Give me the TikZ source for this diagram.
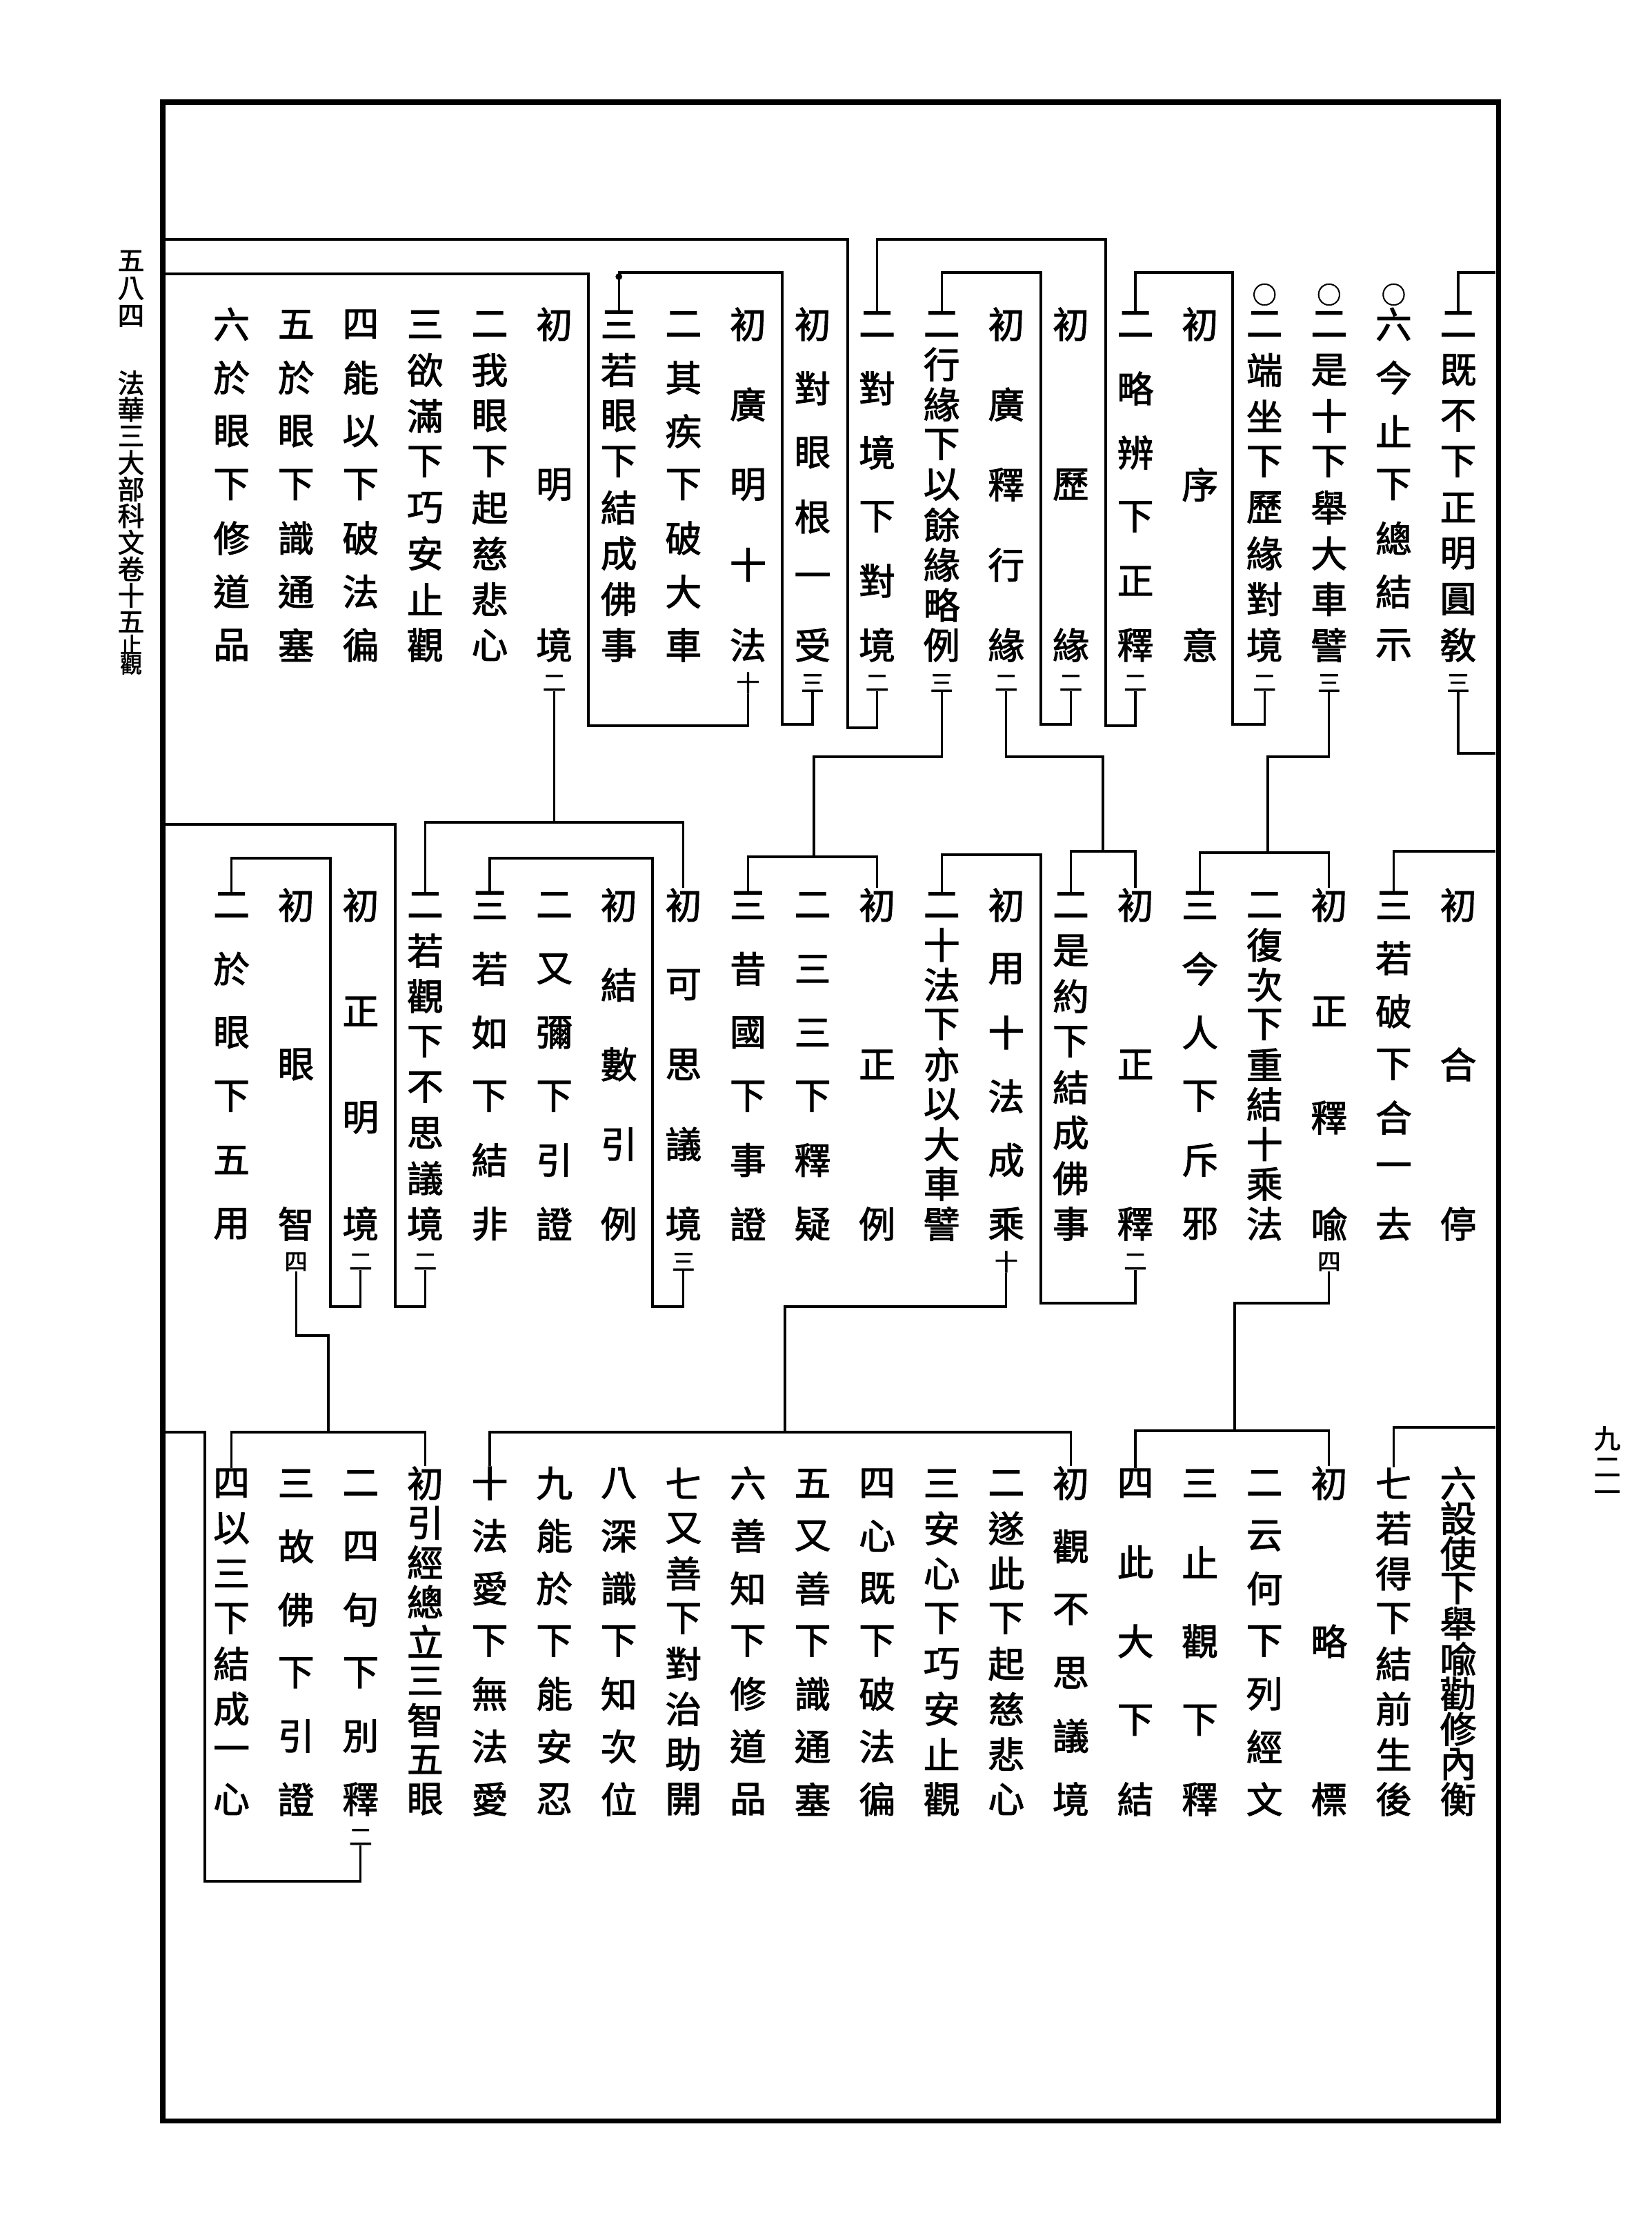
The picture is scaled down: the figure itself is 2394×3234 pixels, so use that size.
\documentclass[tikz,border=0pt]{standalone}
\usepackage{fontspec}
\newfontfamily\cjk{Noto Sans CJK TC}[FakeBold=2]

% one column of the outline: name, column number (right to left), characters, count mark
\newcommand\kcol[4]{%
  \pgfmathsetmacro\kx{2114-93.6*(#2-1)}%
  \foreach \c [count=\i] in {#3} {\xdef\kn{\i}}%
  \foreach \c [count=\i] in {#3} {%
    \pgfmathsetmacro\ky{\ka+(\i-1)*(\kb-\ka)/(\kn-1)}%
    \node[kchar] (#1-\i) at (\kx,\ky) {\c};
  }%
  \coordinate (#1-t) at (#1-1.north);%
  \if\relax\detokenize{#4}\relax
    \coordinate (#1-s) at (#1-\kn.south);%
  \else
    \pgfmathsetmacro\ky{\kb+55}%
    \node[knum] (#1-s) at (\kx,\ky) {#4};%
  \fi
}

\begin{document}
\begin{tikzpicture}[
  x=0.01cm, y=-0.01cm,
  kchar/.style={font={\cjk\fontsize{15pt}{15pt}\selectfont}, inner sep=0pt},
  knum/.style={font={\cjk\fontsize{9.5pt}{10pt}\selectfont}, inner sep=0pt},
  kmark/.style={font={\cjk\fontsize{10pt}{10pt}\selectfont}, inner sep=0pt},
  kside/.style={font={\cjk\fontsize{11pt}{11pt}\selectfont}, inner sep=0pt},
  ksmall/.style={font={\cjk\fontsize{9pt}{9pt}\selectfont}, inner sep=0pt},
  kline/.style={line width=0.9pt},
  kframe/.style={line width=2pt}
]
  \useasboundingbox (0,0) rectangle (2394,3234);
  \draw[kframe] (236,148) rectangle (2172,3074);

  % margins
  \foreach \c [count=\i] in {五,八,四}
    \node[kside] (pg-\i) at (190,{378+40*(\i-1)}) {\c};
  \foreach \c [count=\i] in {法,華,三,大,部,科,文,卷,十,五}
    \node[kside] (ti-\i) at (190,{555+38.5*(\i-1)}) {\c};
  \node[ksmall] (ti-z) at (190,934) {止};
  \node[ksmall] (ti-g) at (190,963) {觀};
  \foreach \c [count=\i] in {九,二,一}
    \node[kside] (no-\i) at (2330,{2085+42*(\i-1)}) {\c};

  % top row
  \def\ka{470}\def\kb{935}
  \kcol{t01}{1}{二,既,不,下,正,明,圓,敎}{三}
  \kcol{t02}{2}{六,今,止,下,總,結,示}{}
  \kcol{t03}{3}{二,是,十,下,舉,大,車,譬}{三}
  \kcol{t04}{4}{二,端,坐,下,歷,緣,對,境}{二}
  \kcol{t05}{5}{初,序,意}{}
  \kcol{t06}{6}{二,略,辨,下,正,釋}{二}
  \kcol{t07}{7}{初,歷,緣}{二}
  \kcol{t08}{8}{初,廣,釋,行,緣}{二}
  \kcol{t09}{9}{二,行,緣,下,以,餘,緣,略,例}{三}
  \kcol{t10}{10}{二,對,境,下,對,境}{二}
  \kcol{t11}{11}{初,對,眼,根,一,受}{三}
  \kcol{t12}{12}{初,廣,明,十,法}{十}
  \kcol{t13}{13}{二,其,疾,下,破,大,車}{}
  \kcol{t14}{14}{三,若,眼,下,結,成,佛,事}{}
  \kcol{t15}{15}{初,明,境}{二}
  \kcol{t16}{16}{二,我,眼,下,起,慈,悲,心}{}
  \kcol{t17}{17}{三,欲,滿,下,巧,安,止,觀}{}
  \kcol{t18}{18}{四,能,以,下,破,法,徧}{}
  \kcol{t19}{19}{五,於,眼,下,識,通,塞}{}
  \kcol{t20}{20}{六,於,眼,下,修,道,品}{}
  \node[kmark] (t02-o) at (t02-1 |- 0,427) {○};
  \node[kmark] (t03-o) at (t03-1 |- 0,427) {○};
  \node[kmark] (t04-o) at (t04-1 |- 0,427) {○};

  % middle row
  \def\ka{1312}\def\kb{1774}
  \kcol{m01}{1}{初,合,停}{}
  \kcol{m02}{2}{三,若,破,下,合,一,去}{}
  \kcol{m03}{3}{初,正,釋,喩}{四}
  \kcol{m04}{4}{二,復,次,下,重,結,十,乘,法}{}
  \kcol{m05}{5}{三,今,人,下,斥,邪}{}
  \kcol{m06}{6}{初,正,釋}{二}
  \kcol{m07}{7}{二,是,約,下,結,成,佛,事}{}
  \kcol{m08}{8}{初,用,十,法,成,乘}{十}
  \kcol{m09}{9}{二,十,法,下,亦,以,大,車,譬}{}
  \kcol{m10}{10}{初,正,例}{}
  \kcol{m11}{11}{二,三,三,下,釋,疑}{}
  \kcol{m12}{12}{三,昔,國,下,事,證}{}
  \kcol{m13}{13}{初,可,思,議,境}{三}
  \kcol{m14}{14}{初,結,數,引,例}{}
  \kcol{m15}{15}{二,又,彌,下,引,證}{}
  \kcol{m16}{16}{三,若,如,下,結,非}{}
  \kcol{m17}{17}{二,若,觀,下,不,思,議,境}{二}
  \kcol{m18}{18}{初,正,明,境}{二}
  \kcol{m19}{19}{初,眼,智}{四}
  \kcol{m20}{20}{二,於,眼,下,五,用}{}

  % bottom row
  \def\ka{2150}\def\kb{2608}
  \kcol{b01}{1}{六,設,使,下,舉,喩,勸,修,內,衡}{}
  \kcol{b02}{2}{七,若,得,下,結,前,生,後}{}
  \kcol{b03}{3}{初,略,標}{}
  \kcol{b04}{4}{二,云,何,下,列,經,文}{}
  \kcol{b05}{5}{三,止,觀,下,釋}{}
  \kcol{b06}{6}{四,此,大,下,結}{}
  \kcol{b07}{7}{初,觀,不,思,議,境}{}
  \kcol{b08}{8}{二,遂,此,下,起,慈,悲,心}{}
  \kcol{b09}{9}{三,安,心,下,巧,安,止,觀}{}
  \kcol{b10}{10}{四,心,既,下,破,法,徧}{}
  \kcol{b11}{11}{五,又,善,下,識,通,塞}{}
  \kcol{b12}{12}{六,善,知,下,修,道,品}{}
  \kcol{b13}{13}{七,又,善,下,對,治,助,開}{}
  \kcol{b14}{14}{八,深,識,下,知,次,位}{}
  \kcol{b15}{15}{九,能,於,下,能,安,忍}{}
  \kcol{b16}{16}{十,法,愛,下,無,法,愛}{}
  \kcol{b17}{17}{初,引,經,總,立,三,智,五,眼}{}
  \kcol{b18}{18}{二,四,句,下,別,釋}{二}
  \kcol{b19}{19}{三,故,佛,下,引,證}{}
  \kcol{b20}{20}{四,以,三,下,結,成,一,心}{}

  % brackets of the top row
  \draw[kline] (2168,395) -| (t01-t);
  \draw[kline] (t01-s.south) |- (2168,1092);
  \draw[kline] (t03-s.south) |- (1838,1097) -- (1838,1236);
  \draw[kline] (m05-t) |- (1838,1236) -| (m03-t);
  \draw[kline] (t04-s.south) |- (1787,1050) -- (1787,395) -| (t06-t);
  \draw[kline] (t06-s.south) |- (1603,1052) -- (1603,347) -| (t10-t);
  \draw[kline] (t07-s.south) |- (1509,1050) -- (1509,395) -| (t09-t);
  \draw[kline] (t08-s.south) |- (1599,1097) -- (1599,1234);
  \draw[kline] (m07-t) |- (1599,1234) -| (m06-t);
  \draw[kline] (t09-s.south) |- (1180,1097) -- (1180,1242);
  \draw[kline] (m12-t) |- (1180,1242) -| (m10-t);
  \draw[kline] (t10-s.south) |- (1229,1055) -- (1229,347) -- (236,347);
  \draw[kline] (t11-s.south) |- (1134,1050) -- (1134,395) -| (t14-t);
  \fill (t14-t |- 0,401) circle (1.4pt);
  \draw[kline] (t12-s.south) |- (853,1052) -- (853,397) -- (236,397);
  \draw[kline] (t15-s.south) -- (t15-s.south |- 0,1192);
  \draw[kline] (m17-t) |- (t15-s.south |- 0,1192) -| (m13-t);

  % brackets of the middle row
  \draw[kline] (2168,1234) -| (m02-t);
  \draw[kline] (m03-s.south) |- (1790,1889) -- (1790,2074);
  \draw[kline] (b06-t) |- (1790,2074) -| (b03-t);
  \draw[kline] (m06-s.south) |- (1509,1889) -- (1509,1239) -| (m09-t);
  \draw[kline] (m08-s.south) |- (1138,1894) -- (1138,2076);
  \draw[kline] (b16-t) |- (1138,2076) -| (b07-t);
  \draw[kline] (m13-s.south) |- (946,1894) -- (946,1244) -| (m16-t);
  \draw[kline] (m17-s.south) |- (573,1894) -- (573,1195) -- (236,1195);
  \draw[kline] (m18-s.south) |- (479,1894) -- (479,1244) -| (m20-t);
  \draw[kline] (m19-s.south) |- (476,1936) -- (476,2076);
  \draw[kline] (b20-t) |- (476,2076) -| (b17-t);

  % brackets of the bottom row
  \draw[kline] (2168,2069) -| (b02-t);
  \draw[kline] (b18-s.south) |- (297,2727) -- (297,2076) -- (236,2076);
\end{tikzpicture}
\end{document}
